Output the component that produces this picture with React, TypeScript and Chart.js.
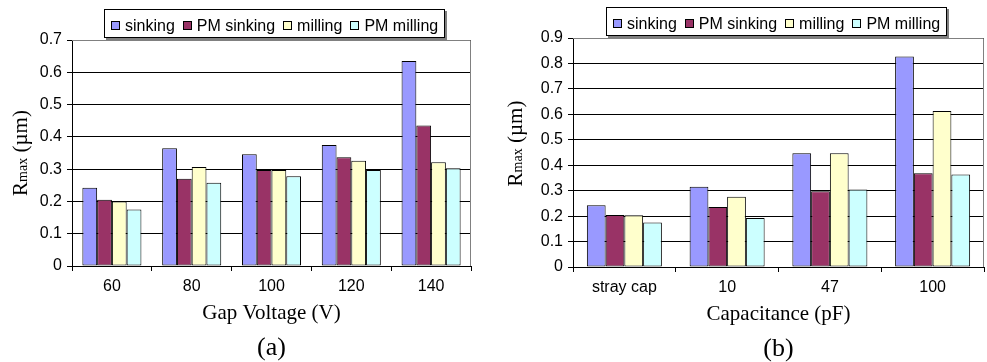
import React, { useEffect, useRef } from 'react';
import { Chart, registerables } from 'chart.js';

Chart.register(...registerables);

const seriesNames = ['sinking', 'PM sinking', 'milling', 'PM milling'];
const seriesColors = ['#9999FF', '#993366', '#FFFFCC', '#CCFFFF'];

// (a) Gap voltage
const voltageCategories = ['60', '80', '100', '120', '140'];
const voltSinking = [0.242, 0.365, 0.346, 0.375, 0.635];
const voltPmSinking = [0.205, 0.27, 0.297, 0.337, 0.435];
const voltMilling = [0.2, 0.307, 0.297, 0.326, 0.321];
const voltPmMilling = [0.175, 0.258, 0.278, 0.297, 0.303];
const voltTicks = ['0', '0.1', '0.2', '0.3', '0.4', '0.5', '0.6', '0.7'];

// (b) Capacitance
const capCategories = ['stray cap', '10', '47', '100'];
const capSinking = [0.243, 0.315, 0.447, 0.827];
const capPmSinking = [0.204, 0.236, 0.298, 0.368];
const capMilling = [0.203, 0.276, 0.447, 0.613];
const capPmMilling = [0.175, 0.193, 0.305, 0.364];
const capTicks = ['0', '0.1', '0.2', '0.3', '0.4', '0.5', '0.6', '0.7', '0.8', '0.9'];

const SANS = '"Liberation Sans", Arial, sans-serif';
const SERIF = '"Liberation Serif", "Times New Roman", serif';

type PanelProps = {
  left: number;
  width: number;
  categories: string[];
  series: number[][];
  ticks: string[];
  max: number;
  xTitle: string;
  caption: string;
  padRight: number;
  padTop: number;
  yWidth: number;
  xHeight: number;
  catPct: number;
  yTitleX: number;
  yTitleDy: number;
  legendDx: number;
};

function Panel(p: PanelProps) {
  const ref = useRef<HTMLCanvasElement | null>(null);
  useEffect(() => {
    if (!ref.current) return;
    const decor = {
      id: 'decor',
      afterDraw(chart: any) {
        const { ctx, chartArea: ca } = chart;
        ctx.save();
        // plot frame (grey top and right)
        ctx.strokeStyle = '#808080';
        ctx.lineWidth = 1;
        ctx.beginPath();
        const t = Math.round(ca.top) + 0.5;
        const r = Math.round(ca.right) - 0.5;
        ctx.moveTo(Math.round(ca.left), t);
        ctx.lineTo(r, t);
        ctx.lineTo(r, Math.round(ca.bottom));
        ctx.stroke();

        const cx = (ca.left + ca.right) / 2;
        // legend
        ctx.font = '16px ' + SANS;
        const box = 9, gapBox = 5, gapItem = 8, pad = 7;
        const widths = seriesNames.map((n) => ctx.measureText(n).width);
        let total = pad * 2 + gapItem * (seriesNames.length - 1);
        widths.forEach((w) => (total += box + gapBox + w));
        total = Math.round(total);
        const lx = Math.round(cx + p.legendDx - total / 2);
        const ly = Math.round(ca.top) - 31;
        const lh = 29;
        ctx.fillStyle = '#808080';
        ctx.fillRect(lx + 2, ly + 2, total, lh);
        ctx.fillStyle = '#ffffff';
        ctx.fillRect(lx, ly, total, lh);
        ctx.strokeStyle = '#000';
        ctx.strokeRect(lx + 0.5, ly + 0.5, total - 1, lh - 1);
        let x = lx + pad;
        seriesNames.forEach((n, i) => {
          const bx = Math.round(x);
          ctx.fillStyle = seriesColors[i];
          ctx.fillRect(bx, ly + 12, box, box);
          ctx.strokeStyle = '#000';
          ctx.strokeRect(bx + 0.5, ly + 12.5, box - 1, box - 1);
          ctx.fillStyle = '#000';
          ctx.textAlign = 'left';
          ctx.textBaseline = 'alphabetic';
          ctx.fillText(n, x + box + gapBox, ly + 22);
          x += box + gapBox + widths[i] + gapItem;
        });

        // x title and caption
        ctx.fillStyle = '#000';
        ctx.textAlign = 'center';
        ctx.textBaseline = 'alphabetic';
        ctx.font = '21px ' + SERIF;
        ctx.fillText(p.xTitle, cx, ca.bottom + 53);
        ctx.font = '26px ' + SERIF;
        ctx.fillText(p.caption, cx, ca.bottom + 89);

        // y title: R_max (µm)
        const big = '21px ' + SERIF;
        const small = '14px ' + SERIF;
        ctx.font = big;
        const wR = ctx.measureText('R').width;
        const wU = ctx.measureText(' (\u00b5m)').width;
        ctx.font = small;
        const wM = ctx.measureText('max').width;
        const tw = wR + wM + wU;
        const cy = (ca.top + ca.bottom) / 2 + p.yTitleDy;
        ctx.translate(p.yTitleX, cy);
        ctx.rotate(-Math.PI / 2);
        ctx.textAlign = 'left';
        let tx = -tw / 2;
        ctx.font = big;
        ctx.fillText('R', tx, 0);
        tx += wR;
        ctx.font = small;
        ctx.fillText('max', tx, 0);
        tx += wM;
        ctx.font = big;
        ctx.fillText(' (\u00b5m)', tx, 0);
        ctx.restore();
      },
    };

    const chart = new Chart(ref.current, {
      type: 'bar',
      data: {
        labels: p.categories,
        datasets: p.series.map((d, i) => ({
          label: seriesNames[i],
          data: d,
          backgroundColor: seriesColors[i],
          borderColor: '#000',
          borderWidth: 1,
          borderSkipped: false,
          barPercentage: 1,
          categoryPercentage: p.catPct,
        })),
      },
      options: {
        responsive: false,
        animation: false,
        devicePixelRatio: 1,
        layout: { padding: { left: 0, right: p.padRight, top: p.padTop, bottom: 0 } },
        plugins: {
          legend: { display: false },
          title: { display: false },
          tooltip: { enabled: false },
        },
        scales: {
          x: {
            grid: { display: true, drawOnChartArea: false, drawTicks: true, tickLength: 5, color: '#000', offset: true },
            border: { display: true, color: '#000' },
            ticks: { color: '#000', font: { family: SANS, size: 16 }, padding: 6, maxRotation: 0, autoSkip: false },
            afterFit: (s: any) => {
              s.height = p.xHeight;
            },
          },
          y: {
            min: 0,
            max: p.max,
            ticks: {
              stepSize: 0.1,
              color: '#000',
              font: { family: SANS, size: 16 },
              padding: 5,
              callback: (_v: any, i: number) => p.ticks[i],
            },
            grid: { color: '#000', tickLength: 5, drawTicks: true },
            border: { display: true, color: '#000' },
            afterFit: (s: any) => {
              s.width = p.yWidth;
            },
          },
        },
      } as any,
      plugins: [decor],
    });
    return () => chart.destroy();
  }, []);
  return (
    <canvas
      ref={ref}
      width={p.width}
      height={362}
      style={{ position: 'absolute', left: p.left, top: 0, width: p.width, height: 362 }}
    />
  );
}

export default function App() {
  return (
    <div style={{ position: 'absolute', left: 0, top: 0, width: 987, height: 362, background: '#fff' }}>
      <Panel
        left={0}
        width={490}
        categories={voltageCategories}
        series={[voltSinking, voltPmSinking, voltMilling, voltPmMilling]}
        ticks={voltTicks}
        max={0.7}
        xTitle="Gap Voltage (V)"
        caption="(a)"
        padRight={19}
        padTop={40}
        yWidth={72}
        xHeight={96}
        catPct={0.74}
        yTitleX={27}
        yTitleDy={0}
        legendDx={3}
      />
      <Panel
        left={490}
        width={497}
        categories={capCategories}
        series={[capSinking, capPmSinking, capMilling, capPmMilling]}
        ticks={capTicks}
        max={0.9}
        xTitle="Capacitance (pF)"
        caption="(b)"
        padRight={3}
        padTop={38}
        yWidth={83}
        xHeight={95}
        catPct={0.73}
        yTitleX={32}
        yTitleDy={-9}
        legendDx={-2}
      />
    </div>
  );
}
